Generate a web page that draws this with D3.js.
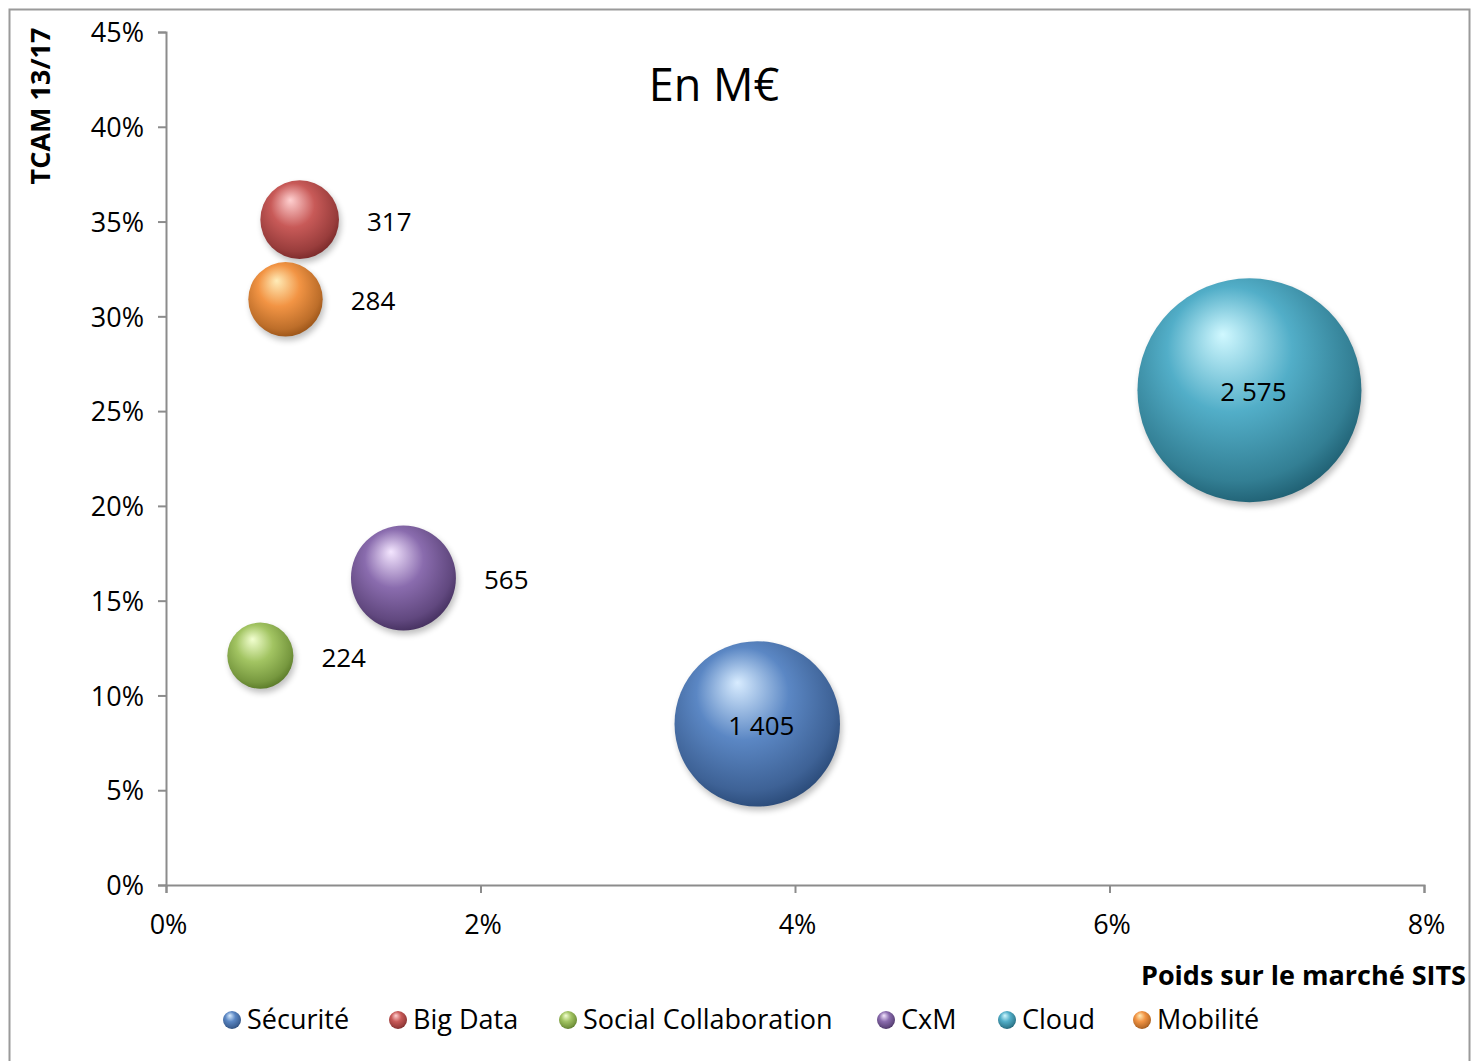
<!DOCTYPE html>
<html>
<head>
<meta charset="utf-8">
<script src="https://cdn.jsdelivr.net/npm/d3@7.9.0/dist/d3.min.js"></script>
<style>
  body { margin: 0; background: #fff; }
  svg { display: block; font-family: "Open Sans", "DejaVu Sans", sans-serif; }
</style>
</head>
<body>
<svg id="chart" width="1472" height="1061"></svg>
<script>
// data
const categories = ['Sécurité', 'Big Data', 'Social Collaboration', 'CxM', 'Cloud', 'Mobilité'];
const poids = [0.0376, 0.0085, 0.0060, 0.0151, 0.0689, 0.0076];   // x : poids sur le marché SITS
const tcam = [0.085, 0.351, 0.121, 0.162, 0.261, 0.309];         // y : TCAM 13/17
const montants = [1405, 317, 224, 565, 2575, 284];               // bubble size, M€
const labels = ['1 405', '317', '224', '565', '2 575', '284'];
const xTicks = [0, 0.02, 0.04, 0.06, 0.08];
const yTicks = [0, 0.05, 0.10, 0.15, 0.20, 0.25, 0.30, 0.35, 0.40, 0.45];

const palette = {
  'Sécurité': ['#d8ecff', '#5b87c4', '#2a4a78'],
  'Big Data': ['#ffd0d0', '#c85a58', '#7a2a2a'],
  'Social Collaboration': ['#f2ffd0', '#a2c462', '#5a7a28'],
  'CxM': ['#f4e6ff', '#8a6cae', '#45305f'],
  'Cloud': ['#d0f8ff', '#52aec8', '#1f5f72'],
  'Mobilité': ['#ffecb8', '#f29444', '#9a5418']
};

const svg = d3.select('#chart');
const defs = svg.append('defs');

const x = d3.scaleLinear().domain([0, 0.08]).range([166, 1424]);
const y = d3.scaleLinear().domain([0, 0.45]).range([885, 32]);
const r = d3.scaleSqrt().domain([0, 2575]).range([0, 112]);

// outer frame
svg.append('rect')
  .attr('x', 9.5).attr('y', 9.5)
  .attr('width', 1460).attr('height', 1070)
  .attr('fill', 'none').attr('stroke', '#9a9a9a').attr('stroke-width', 2);

// gradients for the spheres
categories.forEach((c, i) => {
  const col = palette[c];
  const g = defs.append('radialGradient')
    .attr('id', 'g' + i)
    .attr('cx', '45%').attr('cy', '40%').attr('r', '62%')
    .attr('fx', '38%').attr('fy', '25%');
  g.append('stop').attr('offset', '0%').attr('stop-color', col[0]);
  g.append('stop').attr('offset', '45%').attr('stop-color', col[1]);
  g.append('stop').attr('offset', '85%').attr('stop-color', d3.interpolateRgb(col[1], col[2])(0.6));
  g.append('stop').attr('offset', '100%').attr('stop-color', col[2]);
});
defs.append('filter').attr('id', 'blur')
  .append('feGaussianBlur').attr('stdDeviation', 3);

// axes
const yAxis = svg.append('g')
  .attr('transform', 'translate(166,0)')
  .call(d3.axisLeft(y).tickValues(yTicks).tickFormat(d3.format('.0%')).tickSize(8).tickPadding(14));
const xAxis = svg.append('g')
  .attr('transform', 'translate(0,885)')
  .call(d3.axisBottom(x).tickValues(xTicks).tickFormat(d3.format('.0%')).tickSize(8).tickPadding(22));
[xAxis, yAxis].forEach(a => {
  a.select('.domain').attr('stroke', '#8c8c8c').attr('stroke-width', 2);
  a.selectAll('.tick line').attr('stroke', '#8c8c8c').attr('stroke-width', 2);
  a.selectAll('.tick text').attr('font-size', 27).attr('fill', '#000')
    .attr('font-family', '"Open Sans", sans-serif');
});
yAxis.selectAll('.tick text').attr('dy', '0.36em');
xAxis.selectAll('.tick text').attr('dx', 2);

// axis titles
svg.append('text')
  .attr('transform', 'translate(50,106) rotate(-90)')
  .attr('text-anchor', 'middle')
  .attr('font-size', 27).attr('font-weight', 'bold')
  .text('TCAM 13/17');
svg.append('text')
  .attr('x', 1466).attr('y', 985)
  .attr('text-anchor', 'end')
  .attr('font-size', 27).attr('font-weight', 'bold')
  .text('Poids sur le marché SITS');

// title
svg.append('text')
  .attr('x', 714).attr('y', 101)
  .attr('text-anchor', 'middle')
  .attr('font-size', 45)
  .text('En M€');

// bubbles, largest first
const rows = categories.map((c, i) => ({ c, i, x: poids[i], y: tcam[i], v: montants[i], label: labels[i] }));
const order = rows.slice().sort((a, b) => b.v - a.v);

svg.append('g').selectAll('ellipse')
  .data(order).join('ellipse')
  .attr('cx', d => x(d.x) + 2)
  .attr('cy', d => y(d.y) + 4)
  .attr('rx', d => r(d.v))
  .attr('ry', d => r(d.v))
  .attr('fill', '#000').attr('opacity', 0.25)
  .attr('filter', 'url(#blur)');

svg.append('g').selectAll('circle')
  .data(order).join('circle')
  .attr('cx', d => x(d.x))
  .attr('cy', d => y(d.y))
  .attr('r', d => r(d.v))
  .attr('fill', d => `url(#g${d.i})`);

// value labels: inside for the big ones, to the right otherwise
svg.append('g').selectAll('text')
  .data(rows).join('text')
  .attr('x', d => d.v > 1000 ? x(d.x) + 4 : x(d.x) + r(d.v) + 28)
  .attr('y', d => y(d.y) + 2)
  .attr('dy', '0.35em')
  .attr('text-anchor', d => d.v > 1000 ? 'middle' : 'start')
  .attr('font-size', 26)
  .text(d => d.label);

// legend
const legendX = [232, 398, 568, 886, 1007, 1142];
const legend = svg.append('g').selectAll('g')
  .data(rows).join('g')
  .attr('transform', (d, k) => `translate(${legendX[k]},1020)`);
legend.append('circle').attr('r', 9).attr('fill', d => `url(#g${d.i})`);
legend.append('text')
  .attr('x', 15).attr('dy', '0.35em')
  .attr('font-size', 27)
  .text(d => d.c);
</script>
</body>
</html>
